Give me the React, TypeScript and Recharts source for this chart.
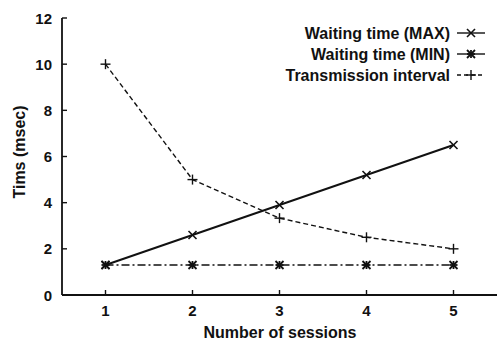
import React from "react";
import { LineChart, Line, XAxis, YAxis } from "recharts";

const sessions = [1, 2, 3, 4, 5];
const waitMax = [1.3, 2.6, 3.9, 5.2, 6.5];
const waitMin = [1.3, 1.3, 1.3, 1.3, 1.3];
const txInterval = [10, 5, 3.33, 2.5, 2];

const xTicks = [1, 2, 3, 4, 5];
const yTicks = [0, 2, 4, 6, 8, 10, 12];

const data = sessions.map((s, i) => ({
  sessions: s,
  max: waitMax[i],
  min: waitMin[i],
  tx: txInterval[i],
}));

const FONT = '"Liberation Sans", Arial, Helvetica, sans-serif';
const INK = "#111";

const Cross = ({ cx, cy, r = 4 }: { cx: number; cy: number; r?: number }) => (
  <g stroke={INK} strokeWidth={1.6}>
    <line x1={cx - r} y1={cy - r} x2={cx + r} y2={cy + r} />
    <line x1={cx - r} y1={cy + r} x2={cx + r} y2={cy - r} />
  </g>
);

const Star = ({ cx, cy, r = 4 }: { cx: number; cy: number; r?: number }) => (
  <g stroke={INK} strokeWidth={1.8}>
    <line x1={cx - r} y1={cy - r} x2={cx + r} y2={cy + r} />
    <line x1={cx - r} y1={cy + r} x2={cx + r} y2={cy - r} />
    <line x1={cx - r} y1={cy} x2={cx + r} y2={cy} />
    <line x1={cx} y1={cy - r} x2={cx} y2={cy + r} />
  </g>
);

const Plus = ({ cx, cy, r = 5 }: { cx: number; cy: number; r?: number }) => (
  <g stroke={INK} strokeWidth={1.4}>
    <line x1={cx - r} y1={cy} x2={cx + r} y2={cy} />
    <line x1={cx} y1={cy - r} x2={cx} y2={cy + r} />
  </g>
);

// tick renderers: inward tick marks on every side of the frame
const LeftTick = (p: any) => (
  <g>
    <line x1={p.x} y1={p.y} x2={p.x + 5} y2={p.y} stroke={INK} strokeWidth={1.4} />
    <text x={p.x - 10} y={p.y} textAnchor="end" dominantBaseline="central" fontSize={15} fontWeight="bold" fill={INK} fontFamily={FONT}>
      {p.payload.value}
    </text>
  </g>
);

const BottomTick = (p: any) => (
  <g>
    <line x1={p.x} y1={p.y} x2={p.x} y2={p.y - 5} stroke={INK} strokeWidth={1.4} />
    <text x={p.x} y={p.y + 21} textAnchor="middle" fontSize={15} fontWeight="bold" fill={INK} fontFamily={FONT}>
      {p.payload.value}
    </text>
  </g>
);

const TopTick = (p: any) => (
  <line x1={p.x} y1={p.y} x2={p.x} y2={p.y + 5} stroke={INK} strokeWidth={1.4} />
);

const RightTick = (p: any) => (
  <line x1={p.x} y1={p.y} x2={p.x - 5} y2={p.y} stroke={INK} strokeWidth={1.4} />
);

const legendRows = [
  { label: "Waiting time (MAX)", dash: undefined, Mark: Cross },
  { label: "Waiting time (MIN)", dash: undefined, Mark: Star },
  { label: "Transmission interval", dash: "4 3", Mark: Plus },
];

export default function App() {
  return (
    <div style={{ position: "absolute", left: 0, top: 0, width: 500, height: 342, background: "#fff" }}>
      <LineChart width={500} height={342} data={data} margin={{ top: 18, right: 3, bottom: 0, left: 0 }}>
        <XAxis
          dataKey="sessions"
          type="number"
          domain={[0.5, 5.5]}
          ticks={xTicks}
          height={47}
          tickSize={0}
          tickMargin={0}
          tickLine={false}
          tick={BottomTick}
          axisLine={{ stroke: INK, strokeWidth: 1.8 }}
          label={{
            content: () => (
              <text x={280} y={338} textAnchor="middle" fontSize={16} fontWeight="bold" fill={INK} fontFamily={FONT}>
                Number of sessions
              </text>
            ),
          }}
        />
        <XAxis
          xAxisId="top"
          orientation="top"
          dataKey="sessions"
          type="number"
          domain={[0.5, 5.5]}
          ticks={xTicks}
          height={0}
          tickSize={0}
          tickMargin={0}
          tickLine={false}
          tick={TopTick}
          axisLine={{ stroke: INK, strokeWidth: 1.8 }}
        />
        <YAxis
          domain={[0, 12]}
          ticks={yTicks}
          width={62}
          tickSize={0}
          tickMargin={0}
          tickLine={false}
          tick={LeftTick}
          axisLine={{ stroke: INK, strokeWidth: 1.8 }}
          label={{
            content: () => (
              <text
                x={19}
                y={152}
                transform="rotate(-90 19 152)"
                textAnchor="middle"
                dominantBaseline="central"
                fontSize={16}
                fontWeight="bold"
                fill={INK}
                fontFamily={FONT}
              >
                Tims (msec)
              </text>
            ),
          }}
        />
        <YAxis
          yAxisId="right"
          orientation="right"
          domain={[0, 12]}
          ticks={yTicks}
          width={0}
          tickSize={0}
          tickMargin={0}
          tickLine={false}
          tick={RightTick}
          axisLine={{ stroke: INK, strokeWidth: 1.8 }}
        />
        <Line
          dataKey="tx"
          stroke={INK}
          strokeWidth={1.4}
          strokeDasharray="5 3"
          isAnimationActive={false}
          dot={(p: any) => <Plus key={`tx-${p.index}`} cx={p.cx} cy={p.cy} />}
        />
        <Line
          dataKey="min"
          stroke={INK}
          strokeWidth={1.4}
          strokeDasharray="8 3 2 3"
          isAnimationActive={false}
          dot={(p: any) => <Star key={`mn-${p.index}`} cx={p.cx} cy={p.cy} />}
        />
        <Line
          dataKey="max"
          stroke={INK}
          strokeWidth={2}
          isAnimationActive={false}
          dot={(p: any) => <Cross key={`mx-${p.index}`} cx={p.cx} cy={p.cy} />}
        />
      </LineChart>
      <svg width={500} height={342} style={{ position: "absolute", left: 0, top: 0, pointerEvents: "none" }}>
        {legendRows.map((row, i) => {
          const y = 33 + i * 21;
          const Mark = row.Mark;
          return (
            <g key={row.label}>
              <text x={450} y={y} textAnchor="end" dominantBaseline="central" fontSize={16} fontWeight="bold" fill={INK} fontFamily={FONT}>
                {row.label}
              </text>
              <line x1={457} y1={y} x2={485} y2={y} stroke={INK} strokeWidth={1.4} strokeDasharray={row.dash} />
              <Mark cx={471} cy={y} />
            </g>
          );
        })}
      </svg>
    </div>
  );
}
